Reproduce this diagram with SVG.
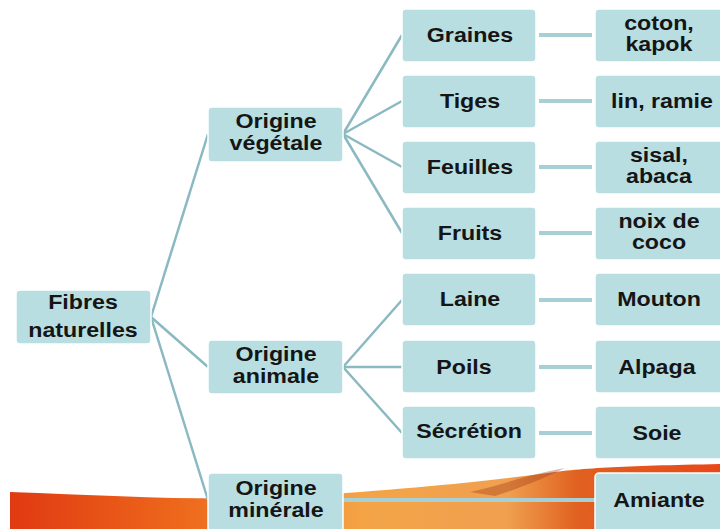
<svg xmlns="http://www.w3.org/2000/svg" width="720" height="529" viewBox="0 0 720 529">
<defs>
<linearGradient id="bg" x1="0" y1="0" x2="1" y2="0">
<stop offset="0" stop-color="#e03a12"/>
<stop offset="0.25" stop-color="#ee6a1c"/>
<stop offset="0.5" stop-color="#f4a446"/>
<stop offset="0.7" stop-color="#f0a050"/>
<stop offset="0.8" stop-color="#e06020"/>
<stop offset="1" stop-color="#e84818"/>
</linearGradient>
<style>
.n rect{fill:#b8dee2;stroke:#ffffff;stroke-width:1.5}
.n text{font-family:"Liberation Sans",Arial,sans-serif;font-weight:bold;font-size:20px;fill:#151515;text-anchor:middle;transform-box:fill-box;transform-origin:center;transform:scaleX(1.16)}
.c{stroke:#8ab9c1;stroke-width:2.5;fill:none}
.h{stroke:#a6d0d6;stroke-width:4;fill:none}
</style>
</defs>
<rect width="720" height="529" fill="#ffffff"/>
<path d="M10,492 C120,496 220,502 300,496 C400,490 480,482 540,474 C580,468 620,466 720,464 L720,529 L10,529 Z" fill="url(#bg)"/>
<path d="M470,492 C505,484 530,474 565,468 C545,478 520,488 495,496 Z" fill="#9a3210" opacity="0.35"/>
<g id="connectors">
<path class="c" d="M151,317 L208,134"/>
<path class="c" d="M151,317 L208,367"/>
<path class="c" d="M151,317 L208,500"/>
<path class="c" d="M343,134 L402,35"/>
<path class="c" d="M343,134 L402,101"/>
<path class="c" d="M343,134 L402,167"/>
<path class="c" d="M343,134 L402,233"/>
<path class="c" d="M343,367 L402,300"/>
<path class="c" d="M343,367 L402,367"/>
<path class="c" d="M343,367 L402,433"/>
<path class="h" d="M343,500 L595,500"/>
<path class="h" d="M539,35 L592,35"/>
<path class="h" d="M539,101 L592,101"/>
<path class="h" d="M539,167 L592,167"/>
<path class="h" d="M539,233 L592,233"/>
<path class="h" d="M539,300 L592,300"/>
<path class="h" d="M539,367 L592,367"/>
<path class="h" d="M539,433 L592,433"/>
</g>
<g id="fibres" class="n"><rect x="16" y="290" width="135" height="54" rx="4"/><text x="83" y="309">Fibres</text><text x="83" y="337">naturelles</text></g>
<g id="vegetale" class="n"><rect x="208" y="107" width="135" height="55" rx="4"/><text x="276" y="128">Origine</text><text x="276" y="150">végétale</text></g>
<g id="animale" class="n"><rect x="208" y="340" width="135" height="54" rx="4"/><text x="276" y="361">Origine</text><text x="276" y="383">animale</text></g>
<g id="minerale" class="n"><rect x="208" y="473" width="135" height="60" rx="4"/><text x="276" y="495">Origine</text><text x="276" y="517">minérale</text></g>
<g id="graines" class="n"><rect x="402" y="9" width="134" height="53" rx="4"/><text x="470" y="42">Graines</text></g>
<g id="tiges" class="n"><rect x="402" y="75" width="134" height="53" rx="4"/><text x="470" y="108">Tiges</text></g>
<g id="feuilles" class="n"><rect x="402" y="141" width="134" height="53" rx="4"/><text x="470" y="174">Feuilles</text></g>
<g id="fruits" class="n"><rect x="402" y="207" width="134" height="53" rx="4"/><text x="470" y="240">Fruits</text></g>
<g id="laine" class="n"><rect x="402" y="273" width="134" height="53" rx="4"/><text x="470" y="306">Laine</text></g>
<g id="poils" class="n"><rect x="402" y="340" width="134" height="53" rx="4"/><text x="464" y="374">Poils</text></g>
<g id="secretion" class="n"><rect x="402" y="406" width="134" height="53" rx="4"/><text x="469" y="438">Sécrétion</text></g>
<g id="coton" class="n"><rect x="595" y="9" width="130" height="53" rx="4"/><text x="659" y="30">coton,</text><text x="659" y="51">kapok</text></g>
<g id="lin" class="n"><rect x="595" y="75" width="130" height="53" rx="4"/><text x="662" y="108">lin, ramie</text></g>
<g id="sisal" class="n"><rect x="595" y="141" width="130" height="53" rx="4"/><text x="659" y="162">sisal,</text><text x="659" y="183">abaca</text></g>
<g id="noix" class="n"><rect x="595" y="207" width="130" height="53" rx="4"/><text x="659" y="228">noix de</text><text x="659" y="249">coco</text></g>
<g id="mouton" class="n"><rect x="595" y="273" width="130" height="53" rx="4"/><text x="659" y="306">Mouton</text></g>
<g id="alpaga" class="n"><rect x="595" y="340" width="130" height="53" rx="4"/><text x="657" y="374">Alpaga</text></g>
<g id="soie" class="n"><rect x="595" y="406" width="130" height="53" rx="4"/><text x="657" y="440">Soie</text></g>
<g id="amiante" class="n"><rect x="595" y="473" width="130" height="60" rx="4"/><text x="659" y="507">Amiante</text></g>
</svg>
